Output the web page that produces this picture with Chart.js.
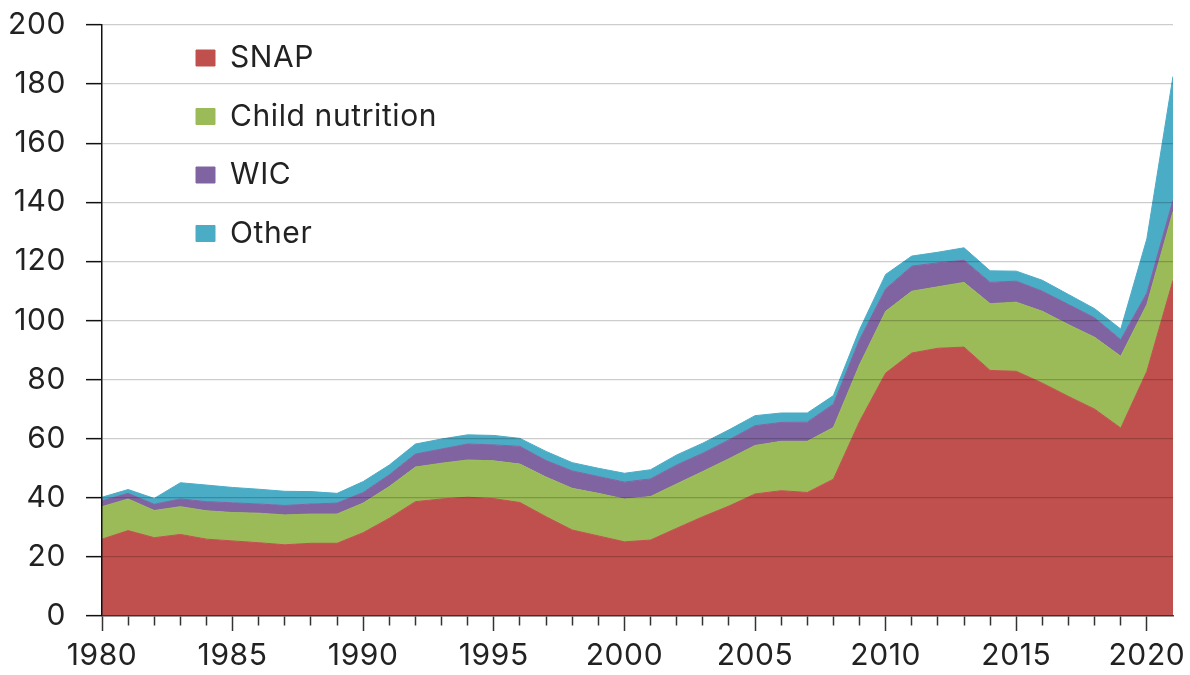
<!DOCTYPE html>
<html>
<head>
<meta charset="utf-8">
<script src="https://cdn.jsdelivr.net/npm/chart.js@4.4.1/dist/chart.umd.min.js"></script>
<style>
  html, body { margin: 0; padding: 0; background: #fff; }
  #wrap { width: 1190px; height: 675px; position: relative; }
</style>
</head>
<body>
<div id="wrap"><canvas id="c" width="1190" height="675"></canvas></div>
<script>
// ---- data ----
const years = [1980,1981,1982,1983,1984,1985,1986,1987,1988,1989,
               1990,1991,1992,1993,1994,1995,1996,1997,1998,1999,
               2000,2001,2002,2003,2004,2005,2006,2007,2008,2009,
               2010,2011,2012,2013,2014,2015,2016,2017,2018,2019,
               2020,2021];
const snap = [26.0,28.9,26.5,27.6,26.0,25.4,24.8,24.1,24.6,24.6,
              28.2,33.1,38.7,39.6,40.2,39.7,38.4,33.6,29.1,27.1,
              25.1,25.7,29.7,33.6,37.2,41.3,42.4,41.8,46.3,65.8,
              82.2,89.0,90.6,91.0,83.1,82.8,78.8,74.3,70.0,63.6,
              82.8,113.6];
const childNutrition = [11.0,10.7,9.2,9.4,9.6,9.6,10.0,10.1,9.9,9.9,
              10.0,10.7,11.7,12.1,12.6,12.8,13.0,13.4,14.1,14.4,
              14.5,14.7,15.0,15.3,16.0,16.4,16.7,17.3,17.5,19.2,
              20.9,20.9,20.8,21.9,22.6,23.4,24.3,24.3,24.3,24.3,
              22.6,23.2];
const wic = [2.0,1.9,2.1,2.6,3.1,3.3,3.1,3.2,3.4,3.7,
             3.6,4.0,4.4,4.8,5.4,5.4,6.0,5.6,5.9,5.7,
             5.7,6.0,6.4,6.2,6.4,6.7,6.4,6.5,7.9,8.5,
             7.6,8.5,8.1,7.5,7.2,7.1,6.8,6.8,6.6,5.6,
             3.9,3.9];
const other = [1.2,1.3,2.0,5.5,5.6,5.2,5.0,4.8,4.2,3.3,
               3.7,3.3,3.4,3.4,3.1,3.2,2.7,3.1,2.8,2.8,
               3.0,3.1,3.4,3.4,3.4,3.4,3.2,3.1,2.9,3.4,
               4.9,3.4,3.6,4.2,3.9,3.4,3.7,3.4,3.1,3.6,
               18.4,41.9];
const seriesNames = ['SNAP', 'Child nutrition', 'WIC', 'Other'];
const seriesColors = ['#C0504D', '#9BBB59', '#8064A2', '#4BACC6'];
const yTickValues = [0, 20, 40, 60, 80, 100, 120, 140, 160, 180, 200];
const xLabelEvery = 5;

// ---- chart ----
const FONT = 'Inter, "Liberation Sans", Arial, sans-serif';
Chart.defaults.font.family = FONT;

const allSeries = [snap, childNutrition, wic, other];
const datasets = allSeries.map((vals, i) => ({
  label: seriesNames[i],
  data: years.map((yr, k) => ({ x: yr, y: vals[k] })),
  backgroundColor: seriesColors[i],
  borderColor: seriesColors[i],
  borderWidth: 1,
  pointRadius: 0,
  pointHoverRadius: 0,
  tension: 0,
  fill: i === 0 ? 'origin' : '-1'
}));

const legendPlacer = {
  id: 'legendPlacer',
  afterLayout(chart) {
    const lg = chart.legend;
    if (!lg) return;
    const p = lg.options.labels.padding;
    lg.left = 196 - p;
    lg.top = 43 - p;
  },
  beforeDraw(chart) { chart.ctx.letterSpacing = '0.6px'; },
  afterDraw(chart) { chart.ctx.letterSpacing = '0px'; }
};

new Chart(document.getElementById('c'), {
  type: 'line',
  data: { datasets },
  plugins: [legendPlacer],
  options: {
    responsive: false,
    animation: false,
    devicePixelRatio: 1,
    layout: { padding: { top: 25, right: 17, left: 0, bottom: 0 } },
    plugins: {
      tooltip: { enabled: false },
      legend: {
        display: true,
        position: 'chartArea',
        align: 'start',
        labels: {
          font: { family: FONT, size: 30 },
          color: '#222',
          boxWidth: 19,
          boxHeight: 16,
          padding: 28.5,
          textAlign: 'left'
        }
      }
    },
    scales: {
      x: {
        type: 'linear',
        min: years[0],
        max: years[years.length - 1],
        afterBuildTicks: (s) => {
          s.ticks = s.ticks.filter(t => Math.abs(t.value - Math.round(t.value)) < 1e-6 && t.value < years[years.length - 1]);
        },
        afterFit: (s) => { s.height = 59; s.paddingLeft = 0; s.paddingRight = 0; },
        ticks: {
          stepSize: 1,
          autoSkip: false,
          maxRotation: 0,
          padding: 7,
          color: '#222',
          font: { family: FONT, size: 30 },
          callback: (v) => (Math.round(v) % xLabelEvery === 0 ? String(Math.round(v)) : '')
        },
        grid: {
          drawOnChartArea: false,
          drawTicks: true,
          tickLength: 15,
          tickColor: '#333',
          tickWidth: 1.5,
          tickBorderDash: (ctx) => (ctx.tick && Math.round(ctx.tick.value) % xLabelEvery === 0 ? [] : [9, 40])
        },
        border: { display: true, color: '#444', width: 1.5, z: 1 }
      },
      y: {
        type: 'linear',
        stacked: true,
        min: yTickValues[0],
        max: yTickValues[yTickValues.length - 1],
        afterFit: (s) => { s.width = 102; s.paddingTop = 0; s.paddingBottom = 0; },
        afterBuildTicks: (s) => { s.ticks = yTickValues.map(v => ({ value: v })); },
        ticks: {
          padding: 20,
          color: '#222',
          font: { family: FONT, size: 30 }
        },
        grid: {
          color: 'rgba(0,0,0,0.2)',
          lineWidth: 1.3,
          z: 1,
          drawTicks: true,
          tickLength: 16,
          tickColor: '#111',
          tickWidth: 1.5
        },
        border: { display: true, color: '#111', width: 1.5, z: 1 }
      }
    }
  }
});
</script>
</body>
</html>
